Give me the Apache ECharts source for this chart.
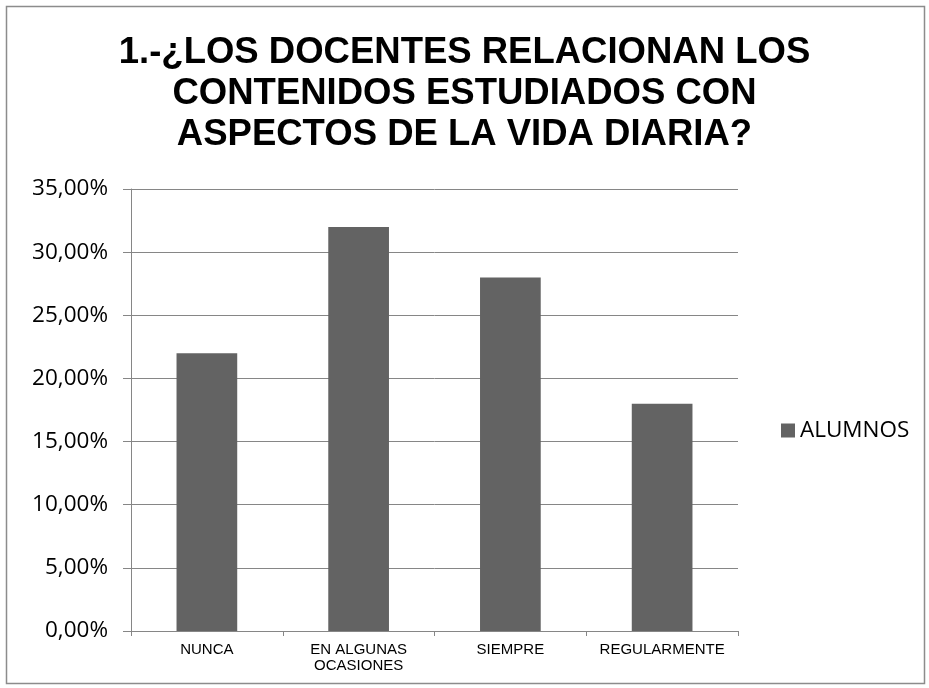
<!DOCTYPE html>
<html>
<head>
<meta charset="utf-8">
<script src="https://cdn.jsdelivr.net/npm/echarts@6/dist/echarts.min.js"></script>
<style>html,body{margin:0;padding:0;background:#fff;}#c{width:929px;height:688px;}</style>
</head>
<body>
<div id="c"></div>
<script>
const categories = ['NUNCA', 'EN ALGUNAS\nOCASIONES', 'SIEMPRE', 'REGULARMENTE'];
const alumnos = [0.22, 0.32, 0.28, 0.18];
const seriesName = 'ALUMNOS';
const titleText = '1.-¿LOS DOCENTES RELACIONAN LOS\nCONTENIDOS ESTUDIADOS CON\nASPECTOS DE LA VIDA DIARIA?';

const chart = echarts.init(document.getElementById('c'));
chart.setOption({
  backgroundColor: '#fff',
  animation: false,
  graphic: [{
    type: 'rect', shape: { x: 6.5, y: 6.5, width: 918, height: 677 },
    style: { fill: 'none', stroke: '#8c8c8c', lineWidth: 1.5 }, silent: true
  }],
  title: {
    text: titleText, left: 'center', top: 27,
    textStyle: { fontFamily: 'Liberation Sans', fontWeight: 'bold', fontSize: 36.5, color: '#000', lineHeight: 41 }
  },
  legend: {
    data: [seriesName], left: 776, top: 414, icon: 'rect', itemWidth: 14, itemHeight: 14, itemGap: 6,
    textStyle: { fontFamily: 'Open Sans', fontSize: 22.5, color: '#000' }
  },
  grid: { left: 131, right: 191, top: 189, bottom: 57, containLabel: false },
  xAxis: {
    type: 'category', data: categories,
    axisLine: { lineStyle: { color: '#868686', width: 1 } },
    axisTick: { show: true, length: 5, lineStyle: { color: '#868686' } },
    axisLabel: { fontFamily: 'Liberation Sans', fontSize: 15, color: '#000', margin: 11, lineHeight: 16, interval: 0 }
  },
  yAxis: {
    type: 'value', min: 0, max: 0.35, interval: 0.05,
    axisLine: { show: true, lineStyle: { color: '#868686', width: 1 } },
    axisTick: { show: true, length: 8, lineStyle: { color: '#868686' } },
    splitLine: { lineStyle: { color: '#868686', width: 1 } },
    axisLabel: {
      fontFamily: 'Open Sans', fontSize: 22.5, color: '#000', margin: 23,
      formatter: v => (v * 100).toFixed(2).replace('.', ',') + '%'
    }
  },
  series: [{
    name: seriesName, type: 'bar', data: alumnos, barWidth: '40%',
    itemStyle: { color: '#636363' }
  }]
});
</script>
</body>
</html>
